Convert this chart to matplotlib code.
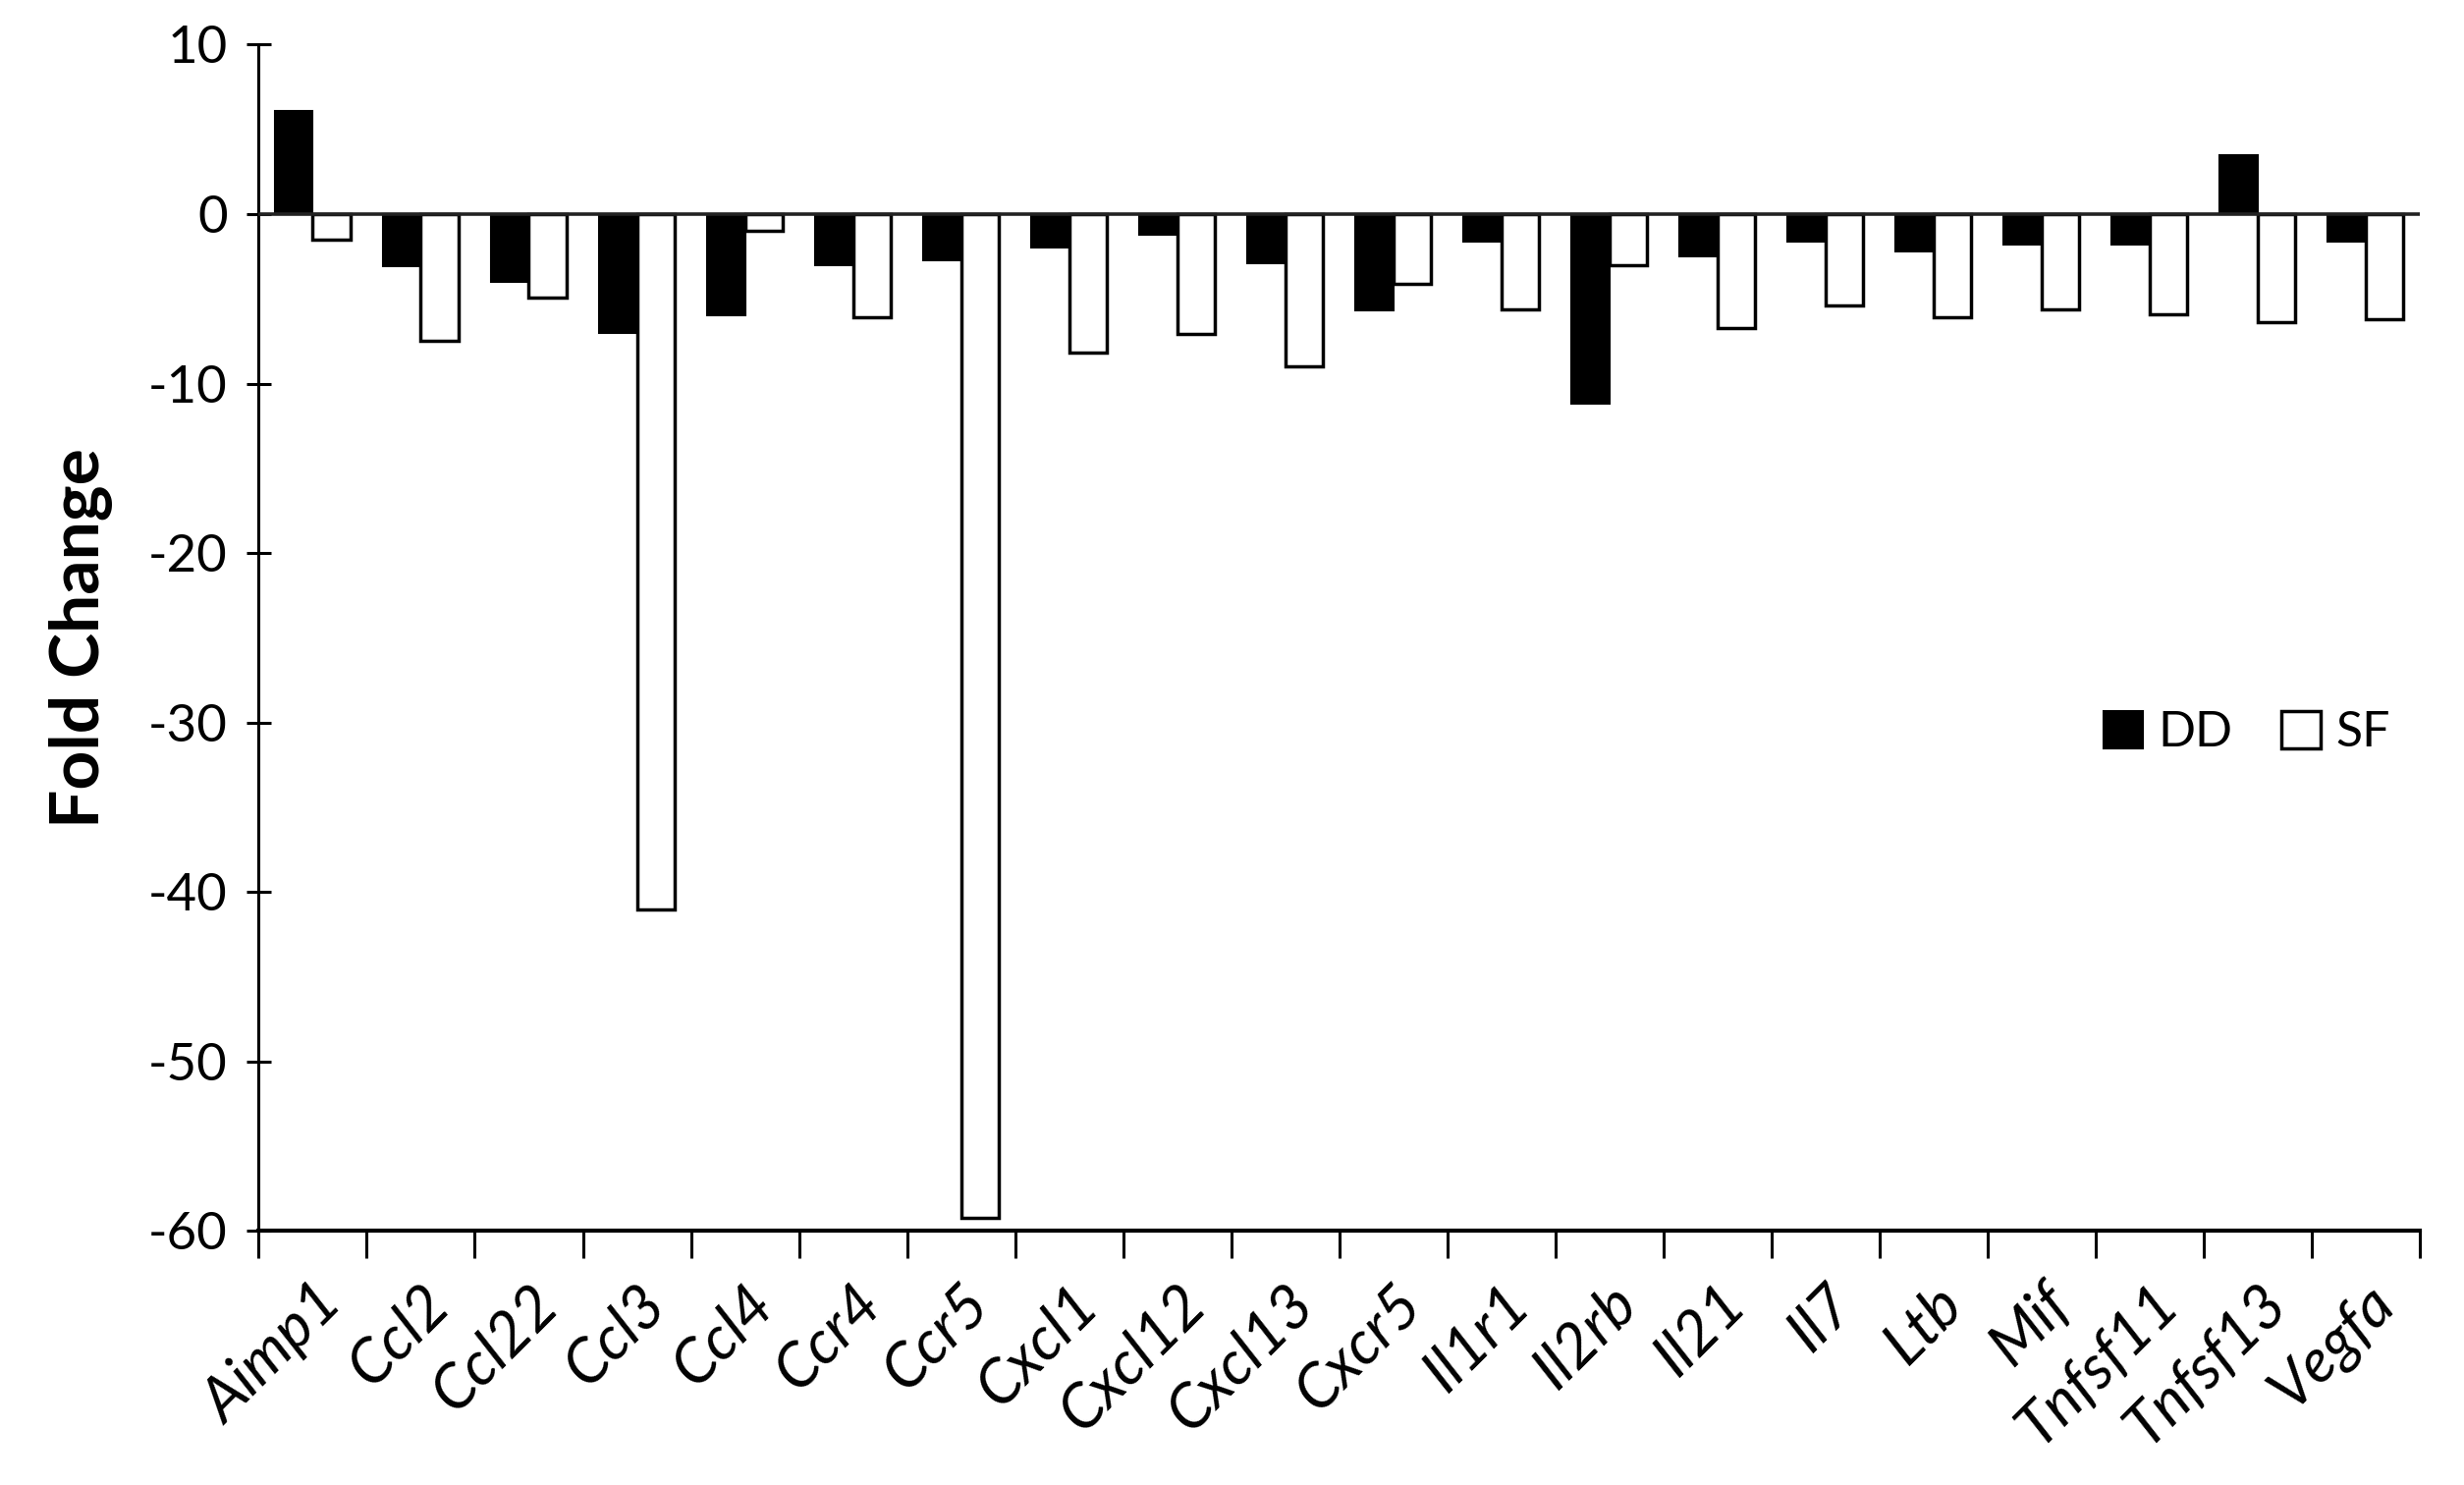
import matplotlib
matplotlib.use("Agg")
import matplotlib.pyplot as plt
import numpy as np

plt.rcParams['font.family'] = ['Lato', 'DejaVu Sans']

# genes on the x axis
genes = ["Aimp1", "Ccl2", "Ccl22", "Ccl3", "Ccl4", "Ccr4", "Ccr5", "Cxcl1",
         "Cxcl12", "Cxcl13", "Cxcr5", "Il1r1", "Il2rb", "Il21", "Il7", "Ltb",
         "Mif", "Tnfsf11", "Tnfsf13", "Vegfa"]

# fold change values
dd = [6.1, -3.1, -4.0, -7.0, -6.0, -3.0, -2.7, -2.0, -1.2, -2.9,
      -5.7, -1.6, -11.2, -2.5, -1.6, -2.2, -1.8, -1.8, 3.5, -1.6]
sf = [-1.5, -7.5, -4.9, -41.0, -1.0, -6.1, -59.2, -8.2, -7.1, -9.0,
      -4.1, -5.6, -3.0, -6.7, -5.4, -6.1, -5.6, -5.9, -6.4, -6.2]

yticks = [10, 0, -10, -20, -30, -40, -50, -60]

fig = plt.figure(figsize=(25.09, 15.12), dpi=100)
ax = fig.add_axes([0.105, 0.171, 0.877, 0.799])

x = np.arange(len(genes))
w = 0.35
ax.bar(x - w / 2, dd, w, color="black", edgecolor="black", linewidth=1.5, label="DD", zorder=3)
ax.bar(x + w / 2, sf, w, color="white", edgecolor="black", linewidth=2.5, label="SF", zorder=3)

ax.axhline(0, color="#222222", linewidth=2.6, zorder=4)

ax.set_xlim(-0.5, len(genes) - 0.5)
ax.set_ylim(-60, 10)

ax.spines['top'].set_visible(False)
ax.spines['right'].set_visible(False)
ax.spines['left'].set_linewidth(2.2)
ax.spines['bottom'].set_linewidth(3.0)

ax.set_yticks(yticks)
ax.set_yticklabels([str(v) for v in yticks])
ax.tick_params(axis='y', direction='inout', length=18, width=2.2, labelsize=38, pad=14)

# labels at centres, tick marks between categories
ax.set_xticks(x)
ax.set_xticklabels(genes, rotation=45, ha='right', rotation_mode='anchor',
                   fontstyle='italic', fontsize=45)
ax.tick_params(axis='x', which='major', length=0, pad=32)
ax.set_xticks(np.arange(-0.5, len(genes)), minor=True)
ax.tick_params(axis='x', which='minor', direction='out', length=20, width=2.2)

ax.set_ylabel("Fold Change", fontsize=50, fontweight='bold', labelpad=26)

ax.legend(loc='center', bbox_to_anchor=(0.92, 0.42), ncol=2, frameon=False,
          fontsize=36, handlelength=0.8, handleheight=0.8, handletextpad=0.3,
          columnspacing=1.0)

fig.savefig("out.png", dpi=100)
